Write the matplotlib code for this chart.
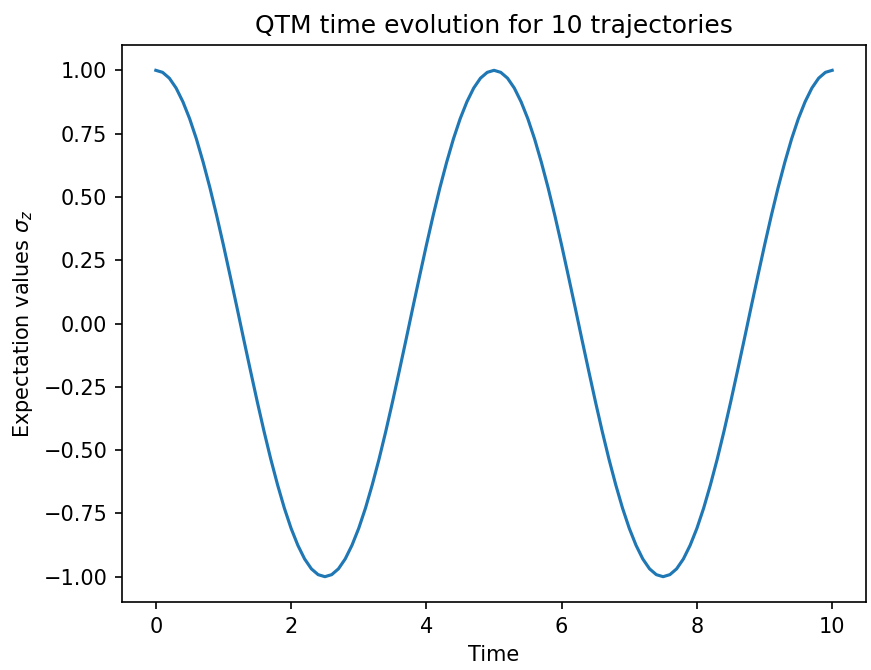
import matplotlib
matplotlib.use("Agg")
import matplotlib.pyplot as plt

# Time samples (step 0.1 from 0 to 10)
time = [round(i * 0.1, 1) for i in range(101)]

# Expectation values (one half-period, 0..2.5)
quarter = [1.000, 0.992, 0.969, 0.930, 0.876, 0.809, 0.729, 0.637, 0.536, 0.426,
           0.309, 0.187, 0.063, -0.063, -0.187, -0.309, -0.426, -0.536, -0.637,
           -0.729, -0.809, -0.876, -0.930, -0.969, -0.992, -1.000]
period = quarter + quarter[-2::-1]          # 0 .. 5.0 (51 values)
sigma_z = period + period[1:]                # 0 .. 10.0 (101 values)

title = "QTM time evolution for 10 trajectories"
xlabel = "Time"
ylabel = r"Expectation values $\sigma_z$"

dpi = 150
fig = plt.figure(figsize=(871 / dpi, 670 / dpi), dpi=dpi)
ax = fig.add_axes([122 / 871, 68 / 670, (866 - 122) / 871, (602 - 45) / 670])
ax.plot(time, sigma_z, color="#1f77b4", linewidth=1.5)
ax.set_xlim(-0.5, 10.5)
ax.set_ylim(-1.1, 1.1)
ax.set_yticks([-1.0, -0.75, -0.5, -0.25, 0.0, 0.25, 0.5, 0.75, 1.0])
ax.set_xticks([0, 2, 4, 6, 8, 10])
ax.set_title(title, fontsize=12)
ax.set_xlabel(xlabel)
ax.set_ylabel(ylabel)
fig.savefig("out.png", dpi=dpi)
